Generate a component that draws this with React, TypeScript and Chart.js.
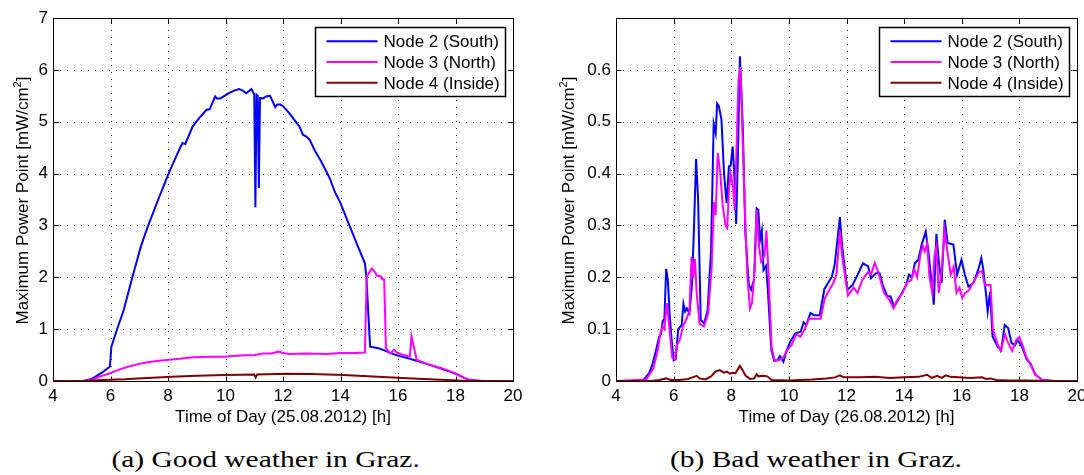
import React, { useEffect, useLayoutEffect, useRef } from "react";
import { Chart, registerables } from "chart.js";

Chart.register(...registerables);

type P = [number, number];

// ---------- labels ----------
const SERIES_NAMES = ["Node 2 (South)", "Node 3 (North)", "Node 4 (Inside)"];
const SERIES_COLORS = ["#0000ff", "#ff00ff", "#800000"];
const X_TICKS = [4, 6, 8, 10, 12, 14, 16, 18, 20];
const GOOD_Y_TICKS = [0, 1, 2, 3, 4, 5, 6, 7];
const BAD_Y_TICKS = [0, 0.1, 0.2, 0.3, 0.4, 0.5, 0.6];
const GOOD_X_TITLE = "Time of Day (25.08.2012) [h]";
const BAD_X_TITLE = "Time of Day (26.08.2012) [h]";
const Y_TITLE_MAIN = "Maximum Power Point [mW/cm";
const Y_TITLE_SUP = "2";
const Y_TITLE_END = "]";
const CAPTIONS = ["(a) Good weather in Graz.", "(b) Bad weather in Graz."];

// ---------- (a) good weather, 25.08.2012 ----------
const goodSouth: P[] = [
  [4, 0], [5.1, 0], [5.38, 0.05], [5.7, 0.16], [5.98, 0.28], [6.03, 0.66], [6.2, 0.95],
  [6.46, 1.37], [6.76, 2.0], [7.06, 2.6], [7.3, 2.98], [7.66, 3.5], [8.02, 4.0], [8.3, 4.35],
  [8.5, 4.59], [8.6, 4.57], [8.86, 4.91], [9.1, 5.08], [9.34, 5.23], [9.45, 5.24], [9.64, 5.49],
  [9.7, 5.45], [9.82, 5.45], [10.12, 5.55], [10.3, 5.6], [10.47, 5.63], [10.6, 5.6], [10.72, 5.55],
  [10.9, 5.63], [11.0, 5.52], [11.04, 3.35], [11.08, 5.52], [11.12, 5.5], [11.16, 3.72],
  [11.2, 5.46], [11.3, 5.45], [11.43, 5.49], [11.55, 5.5], [11.73, 5.28], [11.8, 5.33],
  [11.91, 5.33], [12.0, 5.3], [12.21, 5.17], [12.4, 5.03], [12.57, 4.91], [12.69, 4.75],
  [12.8, 4.72], [12.93, 4.65], [13.1, 4.45], [13.29, 4.27], [13.5, 4.05], [13.65, 3.88],
  [13.8, 3.65], [14.0, 3.43], [14.2, 3.15], [14.37, 2.92], [14.6, 2.6], [14.85, 2.27],
  [14.9, 2.01], [15.03, 0.66], [15.33, 0.63], [15.6, 0.57], [15.93, 0.5], [16.2, 0.46],
  [16.53, 0.41], [17.0, 0.33], [17.49, 0.24], [17.8, 0.18], [18.09, 0.12], [18.3, 0.06],
  [18.45, 0.03], [18.7, 0.01], [18.93, 0], [20, 0],
];
const goodNorth: P[] = [
  [4, 0], [5.0, 0], [5.38, 0.03], [5.6, 0.08], [5.98, 0.15], [6.3, 0.22], [6.58, 0.27],
  [7.0, 0.33], [7.3, 0.36], [7.7, 0.39], [8.02, 0.41], [8.4, 0.43], [8.86, 0.46], [9.4, 0.47],
  [9.94, 0.47], [10.5, 0.49], [11.02, 0.5], [11.3, 0.53], [11.6, 0.53], [11.85, 0.57],
  [12.0, 0.54], [12.2, 0.52], [12.8, 0.53], [13.53, 0.52], [14.0, 0.54], [14.5, 0.54],
  [14.85, 0.55], [14.91, 2.01], [15.09, 2.17], [15.2, 2.1], [15.27, 2.03], [15.4, 2.02],
  [15.45, 1.96], [15.52, 1.96], [15.58, 0.63], [15.74, 0.53], [15.86, 0.6], [15.95, 0.55],
  [16.05, 0.53], [16.2, 0.5], [16.41, 0.47], [16.47, 0.86], [16.65, 0.41], [17.0, 0.33],
  [17.49, 0.25], [17.8, 0.19], [18.09, 0.12], [18.3, 0.06], [18.5, 0.02], [18.9, 0], [20, 0],
];
const goodInside: P[] = [
  [4, 0], [5.0, 0], [5.74, 0.02], [6.5, 0.035], [6.94, 0.05], [8.14, 0.08], [9.0, 0.1],
  [9.94, 0.115], [11.0, 0.125], [11.05, 0.07], [11.1, 0.125], [12.1, 0.14], [13.0, 0.135],
  [14.1, 0.115], [15.3, 0.08], [16.5, 0.05], [17.7, 0.02], [18.45, 0], [20, 0],
];

// ---------- (b) bad weather, 26.08.2012 ----------
const badSouth: P[] = [
  [4, 0], [4.9, 0], [5.02, 0.006], [5.15, 0.015], [5.26, 0.031], [5.38, 0.057], [5.5, 0.086],
  [5.56, 0.09], [5.62, 0.115], [5.68, 0.12], [5.74, 0.216], [5.8, 0.195], [5.86, 0.13],
  [5.93, 0.08], [6.0, 0.04], [6.07, 0.042], [6.16, 0.1], [6.28, 0.108], [6.34, 0.149],
  [6.4, 0.134], [6.46, 0.14], [6.55, 0.131], [6.64, 0.189], [6.7, 0.285], [6.78, 0.428],
  [6.85, 0.35], [6.94, 0.118], [7.06, 0.111], [7.18, 0.137], [7.3, 0.253], [7.39, 0.496],
  [7.46, 0.478], [7.51, 0.535], [7.57, 0.53], [7.66, 0.504], [7.75, 0.4], [7.84, 0.343],
  [7.92, 0.414], [7.98, 0.415], [8.05, 0.452], [8.11, 0.394], [8.17, 0.303], [8.23, 0.433],
  [8.3, 0.626], [8.4, 0.49], [8.49, 0.285], [8.61, 0.185], [8.69, 0.176], [8.79, 0.195],
  [8.88, 0.333], [8.94, 0.33], [9.0, 0.272], [9.06, 0.29], [9.12, 0.214], [9.21, 0.222],
  [9.27, 0.176], [9.39, 0.06], [9.49, 0.039], [9.6, 0.04], [9.69, 0.048], [9.81, 0.037],
  [9.91, 0.057], [10.05, 0.076], [10.23, 0.092], [10.41, 0.095], [10.51, 0.113], [10.6, 0.108],
  [10.75, 0.131], [10.87, 0.127], [11.07, 0.127], [11.23, 0.177], [11.37, 0.19], [11.49, 0.201],
  [11.59, 0.224], [11.77, 0.316], [11.85, 0.259], [12.03, 0.176], [12.21, 0.185], [12.39, 0.205],
  [12.57, 0.227], [12.75, 0.221], [12.85, 0.198], [13.02, 0.208], [13.15, 0.208], [13.26, 0.185],
  [13.41, 0.164], [13.53, 0.163], [13.65, 0.143], [13.89, 0.166], [14.07, 0.185], [14.17, 0.205],
  [14.28, 0.201], [14.37, 0.227], [14.49, 0.234], [14.61, 0.263], [14.75, 0.288], [14.85, 0.246],
  [15.03, 0.147], [15.12, 0.284], [15.21, 0.227], [15.3, 0.189], [15.41, 0.311], [15.51, 0.266],
  [15.71, 0.263], [15.84, 0.205], [15.99, 0.234], [16.11, 0.205], [16.23, 0.182], [16.41, 0.189],
  [16.59, 0.218], [16.68, 0.237], [16.75, 0.214], [16.84, 0.169], [16.9, 0.134], [16.98, 0.172],
  [17.07, 0.086], [17.25, 0.066], [17.37, 0.06], [17.49, 0.108], [17.61, 0.102], [17.73, 0.073],
  [17.85, 0.069], [17.94, 0.079], [18.09, 0.066], [18.26, 0.041], [18.38, 0.034], [18.56, 0.012],
  [18.8, 0.002], [19.2, 0], [20, 0],
];
const badNorth: P[] = [
  [4, 0], [5.05, 0.003], [5.3, 0.025], [5.45, 0.06], [5.55, 0.095], [5.62, 0.105], [5.68, 0.1],
  [5.76, 0.15], [5.84, 0.11], [5.95, 0.045], [6.04, 0.042], [6.12, 0.07], [6.22, 0.08],
  [6.32, 0.105], [6.45, 0.12], [6.55, 0.135], [6.62, 0.24], [6.68, 0.2], [6.74, 0.235],
  [6.8, 0.17], [6.9, 0.11], [7.05, 0.105], [7.2, 0.13], [7.32, 0.22], [7.4, 0.345], [7.46, 0.32],
  [7.53, 0.44], [7.62, 0.4], [7.7, 0.34], [7.8, 0.3], [7.86, 0.295], [7.92, 0.37], [7.98, 0.4],
  [8.06, 0.375], [8.12, 0.33], [8.18, 0.44], [8.25, 0.58], [8.32, 0.605], [8.4, 0.46],
  [8.48, 0.32], [8.56, 0.2], [8.65, 0.14], [8.72, 0.15], [8.82, 0.22], [8.88, 0.33], [8.96, 0.26],
  [9.04, 0.23], [9.15, 0.24], [9.22, 0.29], [9.3, 0.2], [9.4, 0.065], [9.5, 0.04], [9.65, 0.04],
  [9.8, 0.045], [9.95, 0.06], [10.1, 0.07], [10.25, 0.09], [10.4, 0.085], [10.55, 0.1],
  [10.7, 0.12], [10.9, 0.12], [11.1, 0.12], [11.25, 0.16], [11.4, 0.175], [11.55, 0.19],
  [11.65, 0.205], [11.77, 0.29], [11.85, 0.24], [12.05, 0.165], [12.25, 0.18], [12.38, 0.17],
  [12.55, 0.195], [12.75, 0.21], [12.85, 0.205], [12.98, 0.228], [13.1, 0.21], [13.3, 0.17],
  [13.5, 0.155], [13.63, 0.14], [13.75, 0.155], [13.95, 0.17], [14.1, 0.19], [14.25, 0.195],
  [14.35, 0.215], [14.45, 0.2], [14.57, 0.245], [14.65, 0.26], [14.72, 0.25], [14.8, 0.265],
  [14.88, 0.2], [14.98, 0.17], [15.05, 0.24], [15.12, 0.26], [15.2, 0.17], [15.3, 0.21],
  [15.4, 0.29], [15.5, 0.25], [15.62, 0.205], [15.72, 0.22], [15.82, 0.17], [15.92, 0.18],
  [16.02, 0.16], [16.12, 0.17], [16.25, 0.175], [16.45, 0.195], [16.6, 0.21], [16.7, 0.212],
  [16.8, 0.185], [17.0, 0.185], [17.08, 0.1], [17.25, 0.07], [17.35, 0.058], [17.5, 0.09],
  [17.6, 0.075], [17.75, 0.058], [17.9, 0.08], [18.0, 0.085], [18.1, 0.07], [18.25, 0.045],
  [18.4, 0.03], [18.55, 0.012], [18.8, 0.002], [19.2, 0], [20, 0],
];
const badInside: P[] = [
  [4, 0], [5.2, 0], [5.5, 0.002], [5.74, 0.005], [5.9, 0.002], [6.2, 0.002], [6.5, 0.004],
  [6.7, 0.008], [6.8, 0.01], [6.9, 0.005], [7.1, 0.003], [7.3, 0.009], [7.45, 0.018],
  [7.6, 0.021], [7.75, 0.016], [7.85, 0.018], [7.95, 0.014], [8.05, 0.016], [8.15, 0.015],
  [8.22, 0.022], [8.3, 0.029], [8.38, 0.022], [8.5, 0.01], [8.65, 0.004], [8.8, 0.005],
  [8.88, 0.013], [8.95, 0.009], [9.1, 0.01], [9.25, 0.009], [9.4, 0.002], [10, 0.001],
  [10.8, 0.003], [11.3, 0.005], [11.6, 0.007], [11.77, 0.011], [11.9, 0.007], [12.5, 0.007],
  [13.0, 0.008], [13.5, 0.006], [14.0, 0.007], [14.5, 0.008], [14.8, 0.012], [14.95, 0.006],
  [15.15, 0.01], [15.3, 0.006], [15.45, 0.011], [15.6, 0.008], [15.9, 0.007], [16.3, 0.006],
  [16.7, 0.007], [16.85, 0.004], [17.0, 0.005], [17.2, 0.002], [17.6, 0.001], [18.2, 0.001],
  [19, 0], [20, 0],
];

// ---------- drawing helpers ----------
const SANS = "'Liberation Sans', Arial, Helvetica, sans-serif";
const SERIF = "'Liberation Serif', 'Times New Roman', serif";

const matlabFrame = {
  id: "matlabFrame",
  beforeDatasetsDraw(chart: any, _args: any, opts: any) {
    const { ctx, chartArea: ca, scales } = chart;
    const xs = scales.x;
    const ys = scales.y;
    ctx.save();
    // dotted grid
    ctx.strokeStyle = "rgba(0,0,0,0.8)";
    ctx.lineWidth = 1;
    ctx.setLineDash([1, 6]);
    for (const v of X_TICKS) {
      const px = Math.round(xs.getPixelForValue(v)) + 0.5;
      if (px <= ca.left + 2 || px >= ca.right - 2) continue;
      ctx.beginPath();
      ctx.moveTo(px, ca.bottom);
      ctx.lineTo(px, ca.top);
      ctx.stroke();
    }
    for (const v of opts.yTicks as number[]) {
      const py = Math.round(ys.getPixelForValue(v)) + 0.5;
      if (py <= ca.top + 2 || py >= ca.bottom - 2) continue;
      ctx.beginPath();
      ctx.moveTo(ca.left, py);
      ctx.lineTo(ca.right, py);
      ctx.stroke();
    }
    ctx.setLineDash([]);
    // box
    ctx.strokeStyle = "#000";
    ctx.lineWidth = 1;
    const l = Math.round(ca.left) + 0.5;
    const r = Math.round(ca.right) + 0.5;
    const t = Math.round(ca.top) + 0.5;
    const b = Math.round(ca.bottom) + 0.5;
    ctx.strokeRect(l, t, r - l, b - t);
    // inward ticks on all four sides
    const tl = 5;
    ctx.beginPath();
    for (const v of X_TICKS) {
      const px = Math.round(xs.getPixelForValue(v)) + 0.5;
      ctx.moveTo(px, b);
      ctx.lineTo(px, b - tl);
      ctx.moveTo(px, t);
      ctx.lineTo(px, t + tl);
    }
    for (const v of opts.yTicks as number[]) {
      const py = Math.round(ys.getPixelForValue(v)) + 0.5;
      ctx.moveTo(l, py);
      ctx.lineTo(l + tl, py);
      ctx.moveTo(r, py);
      ctx.lineTo(r - tl, py);
    }
    ctx.stroke();
    ctx.restore();
  },
  afterDatasetsDraw(chart: any, _args: any, opts: any) {
    const { ctx, chartArea: ca } = chart;
    ctx.save();
    // legend
    const bw = 190;
    const bh = 69;
    const bx = Math.round(ca.right - 8 - bw) + 0.5;
    const by = Math.round(ca.top + 9) + 0.5;
    ctx.fillStyle = "#fff";
    ctx.fillRect(bx, by, bw, bh);
    ctx.strokeStyle = "#000";
    ctx.lineWidth = 1.5;
    ctx.strokeRect(bx, by, bw, bh);
    ctx.font = `17px ${SANS}`;
    ctx.textAlign = "left";
    ctx.textBaseline = "alphabetic";
    SERIES_NAMES.forEach((name, i) => {
      const ly = by + 13.7 + i * 20.8;
      ctx.strokeStyle = SERIES_COLORS[i];
      ctx.lineWidth = 2;
      ctx.beginPath();
      ctx.moveTo(bx + 11, ly);
      ctx.lineTo(bx + 62, ly);
      ctx.stroke();
      ctx.fillStyle = "#000";
      ctx.fillText(name, bx + 68, by + 19.5 + i * 20.8);
    });
    // x title
    ctx.fillStyle = "#000";
    ctx.textAlign = "center";
    ctx.fillText(opts.xTitle, (ca.left + ca.right) / 2, 422);
    // y title with superscript
    ctx.save();
    ctx.translate(opts.yTitleX, (ca.top + ca.bottom) / 2 + 1);
    ctx.rotate(-Math.PI / 2);
    ctx.textAlign = "left";
    ctx.font = `17px ${SANS}`;
    const w1 = ctx.measureText(Y_TITLE_MAIN).width;
    const w3 = ctx.measureText(Y_TITLE_END).width;
    ctx.font = `11px ${SANS}`;
    const w2 = ctx.measureText(Y_TITLE_SUP).width;
    const total = w1 + w2 + w3;
    let x = -total / 2;
    ctx.font = `17px ${SANS}`;
    ctx.fillText(Y_TITLE_MAIN, x, 0);
    x += w1;
    ctx.font = `11px ${SANS}`;
    ctx.fillText(Y_TITLE_SUP, x, -7);
    x += w2;
    ctx.font = `17px ${SANS}`;
    ctx.fillText(Y_TITLE_END, x, 0);
    ctx.restore();
    ctx.restore();
  },
};

function fmtTick(v: number): string {
  return Number.isInteger(v) ? String(v) : v.toFixed(1);
}

interface PanelSpec {
  series: P[][];
  yMax: number;
  yTicks: number[];
  xTitle: string;
  yAxisWidth: number;
  padRight: number;
  yTitleX: number;
  width: number;
}

function makeConfig(spec: PanelSpec): any {
  return {
    type: "line",
    data: {
      datasets: spec.series.map((pts, i) => ({
        label: SERIES_NAMES[i],
        data: pts.map(([x, y]) => ({ x, y })),
        borderColor: SERIES_COLORS[i],
        backgroundColor: SERIES_COLORS[i],
        borderWidth: 2,
        pointRadius: 0,
        tension: 0,
        fill: false,
        order: 3 - i,
      })),
    },
    options: {
      animation: false,
      responsive: false,
      maintainAspectRatio: false,
      devicePixelRatio: 1,
      events: [],
      layout: { padding: { left: 0, right: spec.padRight, top: 18, bottom: 0 } },
      plugins: {
        legend: { display: false },
        tooltip: { enabled: false },
        matlabFrame: { yTicks: spec.yTicks, xTitle: spec.xTitle, yTitleX: spec.yTitleX },
      },
      scales: {
        x: {
          type: "linear",
          min: 4,
          max: 20,
          afterBuildTicks: (s: any) => {
            s.ticks = X_TICKS.map((v) => ({ value: v }));
          },
          afterFit: (s: any) => {
            s.height = 49;
          },
          grid: { display: false, drawTicks: false },
          border: { display: false },
          ticks: {
            font: { family: SANS, size: 17 },
            color: "#000",
            padding: 5,
            maxRotation: 0,
            autoSkip: false,
            callback: (v: any) => fmtTick(Number(v)),
          },
        },
        y: {
          type: "linear",
          min: 0,
          max: spec.yMax,
          afterBuildTicks: (s: any) => {
            s.ticks = spec.yTicks.map((v) => ({ value: v }));
          },
          afterFit: (s: any) => {
            s.width = spec.yAxisWidth;
          },
          grid: { display: false, drawTicks: false },
          border: { display: false },
          ticks: {
            font: { family: SANS, size: 17 },
            color: "#000",
            padding: 5,
            autoSkip: false,
            callback: (v: any) => fmtTick(Number(v)),
          },
        },
      },
    },
    plugins: [matlabFrame],
  };
}

const CANVAS_H = 430;

const leftSpec: PanelSpec = {
  series: [goodSouth, goodNorth, goodInside],
  yMax: 7,
  yTicks: GOOD_Y_TICKS,
  xTitle: GOOD_X_TITLE,
  yAxisWidth: 53,
  padRight: 27,
  yTitleX: 28,
  width: 540,
};
const rightSpec: PanelSpec = {
  series: [badSouth, badNorth, badInside],
  yMax: 0.7,
  yTicks: BAD_Y_TICKS,
  xTitle: BAD_X_TITLE,
  yAxisWidth: 76,
  padRight: 23,
  yTitleX: 34,
  width: 560,
};

function Panel({ spec, left }: { spec: PanelSpec; left: number }) {
  const ref = useRef<HTMLCanvasElement | null>(null);
  useEffect(() => {
    if (!ref.current) return;
    const chart = new Chart(ref.current, makeConfig(spec));
    return () => chart.destroy();
  }, [spec]);
  return (
    <canvas
      ref={ref}
      width={spec.width}
      height={CANVAS_H}
      style={{ position: "absolute", left, top: 0, width: spec.width, height: CANVAS_H }}
    />
  );
}

export default function App() {
  const capA = useRef<HTMLSpanElement | null>(null);
  const capB = useRef<HTMLSpanElement | null>(null);
  useLayoutEffect(() => {
    if (!capA.current || !capB.current) return;
    const w = capA.current.offsetWidth || 1;
    const k = 308 / w;
    capA.current.style.transform = `scaleX(${k})`;
    capB.current.style.transform = `scaleX(${k})`;
  }, []);
  const capStyle = (center: number): React.CSSProperties => ({
    position: "absolute",
    left: center - 250,
    top: 447,
    width: 500,
    textAlign: "center",
    fontFamily: SERIF,
    fontSize: 24,
    lineHeight: "24px",
    whiteSpace: "nowrap",
    color: "#000",
  });
  return (
    <div
      style={{
        position: "absolute",
        left: 0,
        top: 0,
        width: 1084,
        height: 475,
        overflow: "hidden",
        background: "#fff",
      }}
    >
      <Panel spec={leftSpec} left={0} />
      <Panel spec={rightSpec} left={540} />
      <div style={capStyle(266)}>
        <span ref={capA} style={{ display: "inline-block", transformOrigin: "50% 50%" }}>
          {CAPTIONS[0]}
        </span>
      </div>
      <div style={capStyle(816)}>
        <span ref={capB} style={{ display: "inline-block", transformOrigin: "50% 50%" }}>
          {CAPTIONS[1]}
        </span>
      </div>
    </div>
  );
}
